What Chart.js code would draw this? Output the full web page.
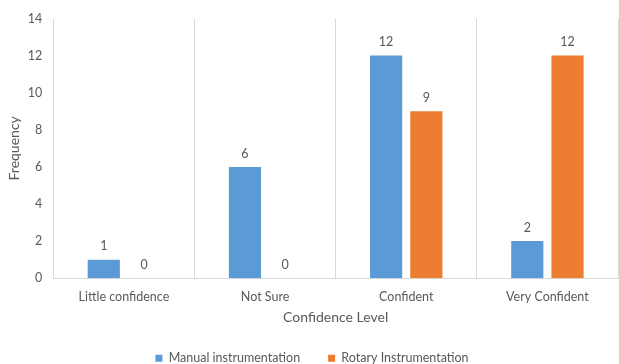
<!DOCTYPE html>
<html>
<head>
<meta charset="utf-8">
<script src="https://cdn.jsdelivr.net/npm/chart.js@4"></script>
<style>
    html, body { margin: 0; padding: 0; background: #fff; }
    #wrap { width: 619px; height: 364px; }
</style>
</head>
<body>
<div id="wrap"><canvas id="chart" width="619" height="364"></canvas></div>
<script>
const categories = ['Little confidence', 'Not Sure', 'Confident', 'Very Confident'];
const manualValues = [1, 6, 12, 2];
const rotaryValues = [0, 0, 9, 12];
const yTicks = [0, 2, 4, 6, 8, 10, 12, 14];

const textColor = '#595959';
const fontFamily = 'Lato, "Open Sans", sans-serif';

// draws the value above each bar, like Excel data labels
const barValues = {
    id: 'barValues',
    afterDatasetsDraw: (chart) => {
        const { ctx } = chart;
        ctx.save();
        ctx.fillStyle = textColor;
        ctx.font = `12.5px ${fontFamily}`;
        ctx.textAlign = 'center';
        ctx.textBaseline = 'bottom';
        chart.data.datasets.forEach((dataset, i) => {
            chart.getDatasetMeta(i).data.forEach((bar, j) => {
                ctx.fillText(String(dataset.data[j]), bar.x, bar.y - 7);
            });
        });
        ctx.restore();
    },
};

new Chart(document.getElementById('chart'), {
    type: 'bar',
    data: {
        labels: categories,
        datasets: [
            {
                label: 'Manual instrumentation',
                data: manualValues,
                backgroundColor: '#5B9BD5',
            },
            {
                label: 'Rotary Instrumentation',
                data: rotaryValues,
                backgroundColor: '#ED7D31',
            },
        ],
    },
    options: {
        responsive: false,
        animation: false,
        layout: { padding: { top: 10, right: 1, left: 6, bottom: 0 } },
        datasets: {
            bar: { categoryPercentage: 0.57, barPercentage: 0.8 },
        },
        plugins: {
            legend: {
                position: 'bottom',
                maxHeight: 40,
                labels: {
                    color: textColor,
                    font: { family: fontFamily, size: 12.5 },
                    boxWidth: 7,
                    boxHeight: 7,
                    padding: 28,
                },
            },
            tooltip: { enabled: false },
        },
        scales: {
            x: {
                grid: { offset: true, color: '#d9d9d9', drawTicks: false },
                border: { color: '#d9d9d9' },
                ticks: { color: textColor, font: { family: fontFamily, size: 12.5 }, padding: 11 },
                title: {
                    display: true,
                    text: 'Confidence Level',
                    color: textColor,
                    font: { family: fontFamily, size: 14 },
                    padding: { top: -6, bottom: -2 },
                },
            },
            y: {
                min: 0,
                max: 14,
                afterBuildTicks: (axis) => {
                    axis.ticks = yTicks.map((value) => ({ value }));
                },
                grid: { display: false, drawTicks: false, tickLength: 0 },
                border: { display: false },
                ticks: { color: textColor, font: { family: fontFamily, size: 12.5 }, padding: 11 },
                title: {
                    display: true,
                    text: 'Frequency',
                    color: textColor,
                    font: { family: fontFamily, size: 14 },
                    padding: { top: 0, bottom: -6 },
                },
            },
        },
    },
    plugins: [barValues],
});
</script>
</body>
</html>
